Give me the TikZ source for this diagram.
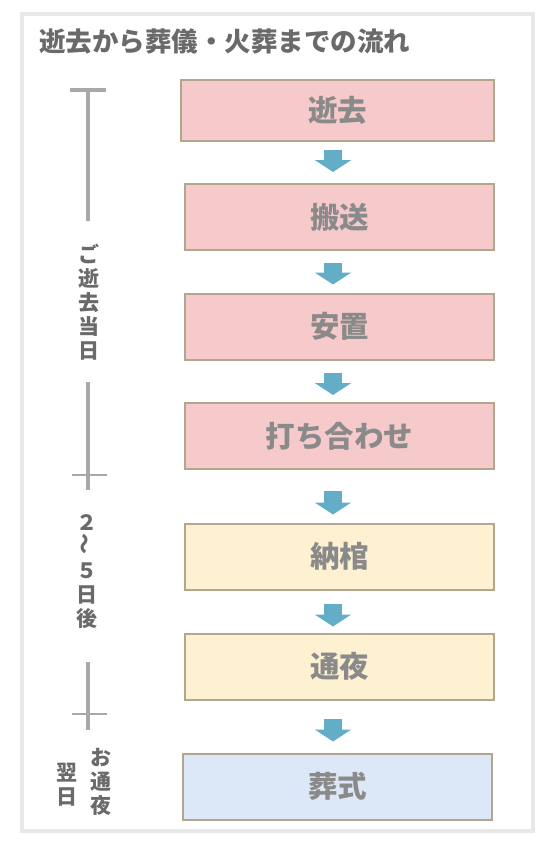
\documentclass[tikz,border=0pt]{standalone}
\usepackage{fontspec}
\usepackage{tikz}
\usetikzlibrary{arrows.meta,calc,positioning}
\newfontfamily\jpfont{Noto Sans CJK JP}

\definecolor{pinkfill}{HTML}{F6CACB}
\definecolor{yellowfill}{HTML}{FEF1D2}
\definecolor{bluefill}{HTML}{DCE8F7}
\definecolor{boxline}{HTML}{B2A68F}
\definecolor{arrowblue}{HTML}{63ADC6}
\definecolor{boxtext}{HTML}{8A8A8A}
\definecolor{sidetext}{HTML}{6A6A6A}
\definecolor{tickgrey}{HTML}{A8A8A8}
\definecolor{framegrey}{HTML}{E8E8E8}

\begin{document}
\begin{tikzpicture}[x=1pt,y=-1pt,
    stepbox/.style={draw=boxline, line width=2pt, minimum width=309pt,
        minimum height=66pt, inner sep=0pt, text=boxtext,
        font=\jpfont\bfseries\fontsize{29.5}{29.5}\selectfont},
    dayone/.style={stepbox, fill=pinkfill},
    laterday/.style={stepbox, fill=yellowfill},
    lastday/.style={stepbox, fill=bluefill},
    flowarrow/.style={draw=arrowblue, line width=18pt,
        -{Triangle[length=12pt,width=36pt]}},
    sidelabel/.style={align=center, inner sep=0pt, text=sidetext,
        font=\jpfont\bfseries\fontsize{21}{24}\selectfont},
    timeline/.style={draw=tickgrey, line width=4pt},
    tickline/.style={draw=tickgrey, line width=2pt}]
\useasboundingbox (0,0) rectangle (556,843);
\draw[framegrey, line width=4pt] (22,14) rectangle (533,831);
\node[anchor=west, inner sep=0pt, text=sidetext,
    font=\jpfont\bfseries\fontsize{26.5}{26.5}\selectfont] (title) at (39,42)
    {逝去から葬儀・火葬までの流れ};

% flow boxes
\node[dayone, minimum width=313pt, minimum height=61pt] (shikyo) at (337.5,110.5) {逝去};
\node[dayone] (hanso) at (339.5,217) {搬送};
\node[dayone] (anchi) at (339.5,326.5) {安置};
\node[dayone] (uchiawase) at (339.5,436) {打ち合わせ};
\node[laterday] (nokan) at (339.5,556.5) {納棺};
\node[laterday] (tsuya) at (339.5,666.5) {通夜};
\node[lastday] (soshiki) at (337.5,786.5) {葬式};

\coordinate (ax) at (333,0);
\foreach \a/\b/\s/\e in {shikyo/hanso/8/11, hanso/anchi/12/8, anchi/uchiawase/12/7,
    uchiawase/nokan/21/8, nokan/tsuya/13/6, tsuya/soshiki/18/11}
{
\draw[flowarrow] ($(\a.south -| ax)+(0,\s)$) -- ($(\b.north -| ax)+(0,-\e)$);
}

% time line
\draw[timeline] (70,90) -- (106,90);
\draw[timeline] (88,90) -- (88,221);
\draw[timeline] (88,382) -- (88,490);
\draw[tickline] (72,475) -- (107,475);
\draw[timeline] (88,662) -- (88,730);
\draw[tickline] (72,714) -- (107,714);

\node[sidelabel] (toujitsu) at (89,302) {ご\\逝\\去\\当\\日};
\node[sidelabel] (nigo) at (87,572) {２\\\rotatebox{90}{～}\\５\\日\\後};
\node[sidelabel] (otsuya) at (101,782) {お\\通\\夜};
\node[sidelabel] (yokujitsu) at (67,785) {翌\\日};
\end{tikzpicture}
\end{document}
